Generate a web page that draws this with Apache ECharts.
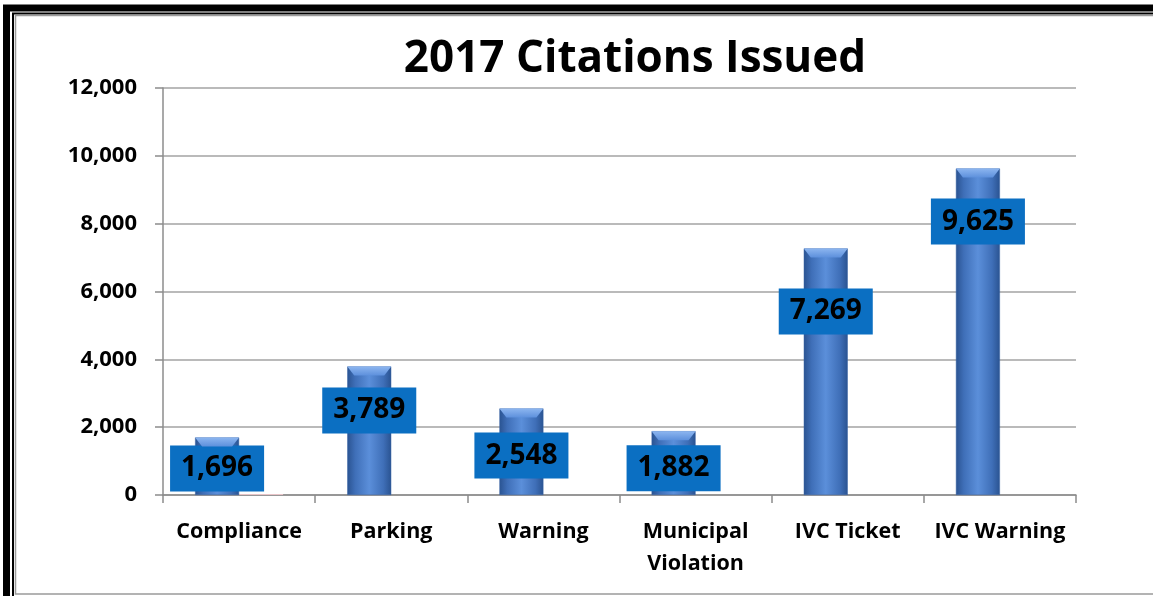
<!DOCTYPE html>
<html>
<head>
<meta charset="utf-8">
<style>
  html, body { margin: 0; padding: 0; background: #fff; }
  #chart { width: 1153px; height: 596px; }
</style>
<script src="https://cdn.jsdelivr.net/npm/echarts@6/dist/echarts.min.js"></script>
</head>
<body>
<div id="chart"></div>
<script>
// Citation counts for 2017 by type
const categories = ['Compliance', 'Parking', 'Warning', 'Municipal\nViolation', 'IVC Ticket', 'IVC Warning'];
const citations = [1696, 3789, 2548, 1882, 7269, 9625];
const secondary = [30, 0, 0, 0, 0, 0];
const yTicks = [0, 2000, 4000, 6000, 8000, 10000, 12000];

// how far each value box sits below the top of its bar (px)
const labelDrop = [8, 21, 24, 14, 40, 30];

const font = '"Open Sans", Lato, sans-serif';
const chart = echarts.init(document.getElementById('chart'), null, { renderer: 'canvas' });

const barFill = new echarts.graphic.LinearGradient(0, 0, 1, 0, [
  { offset: 0, color: '#2a5391' },
  { offset: 0.18, color: '#3f6fb8' },
  { offset: 0.5, color: '#5b8fda' },
  { offset: 0.82, color: '#3f6fb8' },
  { offset: 1, color: '#2a5391' }
]);
const capFill = new echarts.graphic.LinearGradient(0, 0, 0, 1, [
  { offset: 0, color: '#8db6f0' },
  { offset: 1, color: '#5d90dc' }
]);

chart.setOption({
  animation: false,
  backgroundColor: '#fff',
  title: {
    text: '2017 Citations Issued',
    left: 630,
    textAlign: 'center',
    top: 32,
    textStyle: { fontFamily: font, fontWeight: 'bold', fontSize: 44, color: '#000' }
  },
  graphic: [
    { type: 'rect', silent: true, shape: { x: 6.5, y: 8, width: 1200, height: 700 },
      style: { fill: 'none', stroke: '#000', lineWidth: 7 } },
    { type: 'rect', silent: true, shape: { x: 13, y: 13.5, width: 1200, height: 700 },
      style: { fill: 'none', stroke: '#000', lineWidth: 2 } },
    { type: 'rect', silent: true, shape: { x: 15.5, y: 15.5, width: 1200, height: 578.5 },
      style: { fill: 'none', stroke: '#9a9a9a', lineWidth: 1.5 } }
  ],
  grid: { left: 163, right: 77, top: 88, bottom: 101, containLabel: false },
  xAxis: {
    type: 'category',
    data: categories,
    axisLine: { lineStyle: { color: '#8c8c8c', width: 1.5 } },
    axisTick: { show: true, length: 8, lineStyle: { color: '#8c8c8c', width: 1.5 } },
    axisLabel: {
      margin: 21, color: '#000', fontFamily: font, fontWeight: 'bold',
      fontSize: 21.5, lineHeight: 32, interval: 0
    }
  },
  yAxis: {
    type: 'value',
    min: yTicks[0],
    max: yTicks[yTicks.length - 1],
    interval: yTicks[1] - yTicks[0],
    axisLine: { show: true, lineStyle: { color: '#8c8c8c', width: 1.5 } },
    axisTick: { show: true, length: 8, lineStyle: { color: '#8c8c8c', width: 1.5 } },
    splitLine: { lineStyle: { color: '#a3a3a3', width: 1.5 } },
    axisLabel: {
      margin: 26, color: '#000', fontFamily: font, fontWeight: 'bold', fontSize: 22,
      formatter: v => v.toLocaleString('en-US')
    }
  },
  series: [
    {
      name: 'Citations',
      type: 'bar',
      barWidth: 44,
      barGap: '0%',
      data: citations.map((v, i) => ({
        value: v,
        label: { distance: labelDrop[i] }
      })),
      itemStyle: { color: barFill, borderColor: '#3a64a6', borderWidth: 0.5 },
      label: {
        show: true,
        position: 'insideTop',
        formatter: p => p.value.toLocaleString('en-US'),
        backgroundColor: '#0b6fc2',
        padding: [7, 11, 7, 11],
        color: '#000',
        fontFamily: font,
        fontWeight: 'bold',
        fontSize: 28,
        lineHeight: 32
      },
      z: 3
    },
    {
      name: 'Other',
      type: 'bar',
      barWidth: 44,
      data: secondary,
      itemStyle: { color: '#e9c4c8' },
      z: 2
    },
    {
      // bevelled cap drawn on the top of each bar
      name: 'Cap',
      type: 'pictorialBar',
      data: citations,
      symbol: 'path://M0,0 L44,0 L37,9 L7,9 Z',
      symbolSize: [44, 9],
      symbolPosition: 'end',
      symbolOffset: [-22, 0],
      itemStyle: { color: capFill },
      silent: true,
      z: 4
    }
  ]
});
</script>
</body>
</html>
